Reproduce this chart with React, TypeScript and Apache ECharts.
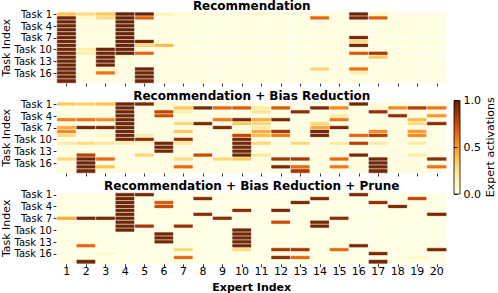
import React, { useEffect, useRef } from 'react';
import * as echarts from 'echarts';

const experts = ['1', '2', '3', '4', '5', '6', '7', '8', '9', '10', '11', '12', '13', '14', '15', '16', '17', '18', '19', '20'];
const tasks = ['Task 1', 'Task 2', 'Task 3', 'Task 4', 'Task 5', 'Task 6', 'Task 7', 'Task 8', 'Task 9', 'Task 10', 'Task 11', 'Task 12', 'Task 13', 'Task 14', 'Task 15', 'Task 16', 'Task 17', 'Task 18'];
const panelTitles = ['Recommendation', 'Recommendation + Bias Reduction', 'Recommendation + Bias Reduction + Prune'];
const colorbarRange = [0, 1];
const colorbarStep = 0.5;
const ylOrBr = ['#ffffe5', '#fff7bc', '#fee391', '#fec44f', '#fe9929', '#ec7014', '#cc4c02', '#993404', '#662506'];

// rows = Task 1..18, columns = Expert 1..20
const recommendation: number[][] = [
  [.38, .28, .35, 1, .98, .14, .06, .03, .03, .04, .10, .03, .03, .03, .03, .98, .10, .03, .03, .03],
  [.98, .10, .28, 1, .68, .03, .03, .03, .03, .03, .03, .03, .03, .66, .03, .96, .68, .03, .03, .03],
  [.98, .03, .03, 1, .03, .03, .03, .03, .03, .03, .03, .03, .03, .03, .03, .03, .03, .03, .03, .03],
  [.98, .03, .03, 1, .03, .03, .03, .03, .03, .03, .03, .03, .03, .03, .03, .03, .03, .03, .03, .03],
  [.98, .03, .03, 1, .03, .03, .03, .03, .03, .03, .03, .03, .03, .03, .03, .03, .03, .03, .03, .03],
  [.98, .03, .03, 1, .03, .03, .03, .03, .03, .03, .03, .03, .03, .03, .03, .03, .03, .03, .03, .03],
  [.98, .03, .03, 1, .03, .03, .03, .03, .03, .03, .03, .03, .03, .03, .03, .97, .03, .03, .03, .03],
  [.98, .03, .03, 1, .97, .03, .03, .03, .03, .03, .03, .03, .03, .03, .03, .28, .03, .03, .03, .03],
  [.98, .03, .03, 1, .30, .40, .03, .03, .03, .03, .03, .03, .03, .03, .03, .97, .03, .03, .03, .03],
  [.98, .18, .98, 1, .03, .03, .03, .03, .03, .03, .03, .03, .03, .03, .03, .03, .03, .03, .03, .03],
  [.98, .18, .98, 1, .65, .03, .03, .03, .03, .03, .03, .03, .03, .03, .03, .70, .85, .03, .03, .03],
  [.98, .03, .98, .10, .03, .03, .03, .03, .03, .03, .03, .03, .03, .03, .03, .03, .35, .03, .03, .03],
  [.98, .03, .98, .03, .03, .03, .03, .03, .03, .03, .03, .03, .03, .03, .03, .03, .03, .03, .03, .03],
  [.98, .03, .98, .03, .03, .03, .03, .03, .03, .03, .03, .03, .03, .03, .03, .03, .03, .03, .03, .03],
  [.98, .03, .12, .03, .98, .03, .03, .03, .03, .03, .03, .03, .03, .30, .03, .62, .03, .03, .03, .03],
  [.98, .03, .62, .03, .98, .03, .03, .03, .03, .03, .03, .03, .03, .03, .03, .18, .03, .03, .03, .03],
  [.98, .03, .03, .03, .98, .03, .03, .03, .03, .03, .03, .03, .03, .03, .03, .03, .03, .03, .03, .03],
  [.98, .03, .03, .03, .98, .03, .03, .03, .03, .03, .03, .03, .03, .03, .03, .03, .03, .03, .03, .03],
];

const biasReduction: number[][] = [
  [.35, .32, .38, .98, .95, .10, .03, .03, .03, .03, .03, .03, .03, .03, .03, .97, .03, .03, .03, .03],
  [.03, .03, .03, .98, .03, .03, .35, .95, .65, .70, .20, .70, .03, .95, .55, .03, .10, .55, .82, .60],
  [.03, .03, .03, .98, .03, .78, .18, .03, .03, .03, .25, .03, .92, .03, .03, .03, .90, .03, .03, .03],
  [.03, .03, .03, .98, .03, .75, .03, .03, .03, .03, .03, .03, .03, .03, .20, .03, .03, .90, .03, .50],
  [.58, .62, .55, .98, .03, .03, .03, .03, .60, .95, .45, .95, .03, .03, .60, .03, .03, .03, .40, .03],
  [.03, .03, .03, .98, .03, .03, .30, .95, .03, .35, .30, .03, .03, .30, .03, .03, .03, .03, .28, .92],
  [.45, .97, .95, .98, .03, .03, .03, .03, .95, .03, .20, .03, .03, .45, .95, .03, .03, .03, .03, .03],
  [.55, .03, .03, .98, .03, .03, .35, .03, .03, .12, .45, .85, .03, .97, .03, .03, .55, .03, .50, .03],
  [.28, .03, .12, .98, .18, .03, .03, .03, .03, .78, .40, .60, .03, .97, .03, .65, .82, .03, .55, .03],
  [.03, .03, .03, .98, .90, .03, .88, .03, .03, .97, .03, .03, .03, .03, .03, .03, .03, .03, .03, .03],
  [.20, .28, .22, .18, .12, .97, .22, .03, .03, .97, .30, .03, .30, .03, .20, .80, .20, .03, .20, .03],
  [.03, .03, .03, .03, .03, .97, .03, .03, .03, .97, .03, .03, .03, .03, .03, .03, .03, .03, .03, .03],
  [.03, .03, .03, .03, .03, .97, .03, .03, .03, .97, .03, .03, .03, .03, .03, .03, .03, .03, .03, .03],
  [.03, .80, .03, .03, .30, .03, .03, .75, .03, .97, .22, .03, .03, .03, .03, .95, .03, .03, .20, .03],
  [.30, .98, .65, .03, .03, .03, .28, .03, .30, .35, .03, .85, .85, .03, .65, .03, .97, .03, .03, .92],
  [.03, .98, .03, .03, .03, .03, .03, .03, .03, .03, .03, .03, .03, .03, .03, .03, .97, .03, .03, .03],
  [.03, .98, .38, .03, .03, .03, .65, .03, .03, .03, .03, .95, .65, .03, .60, .03, .97, .03, .03, .62],
  [.03, .97, .03, .03, .03, .03, .03, .03, .03, .03, .03, .03, .85, .03, .03, .03, .97, .03, .03, .03],
];

const prune: number[][] = [
  [.02, .02, .02, .98, .97, .02, .02, .02, .02, .02, .02, .02, .02, .02, .02, .95, .02, .02, .02, .02],
  [.02, .02, .02, .98, .02, .02, .02, .92, .02, .02, .02, .02, .02, .95, .02, .02, .02, .02, .78, .02],
  [.02, .02, .02, .98, .02, .70, .02, .02, .02, .02, .02, .02, .95, .02, .02, .02, .90, .02, .02, .02],
  [.02, .02, .02, .98, .02, .75, .02, .02, .02, .02, .02, .02, .02, .02, .02, .02, .02, .95, .02, .02],
  [.02, .02, .02, .98, .02, .02, .02, .02, .02, .92, .02, .95, .02, .02, .02, .02, .02, .02, .02, .02],
  [.02, .02, .02, .98, .02, .02, .02, .92, .02, .02, .02, .02, .02, .02, .02, .02, .02, .02, .02, .95],
  [.45, .97, .97, .98, .02, .02, .02, .02, .92, .02, .02, .02, .02, .02, .92, .02, .02, .02, .02, .02],
  [.02, .02, .02, .98, .02, .02, .02, .02, .02, .02, .02, .75, .02, .97, .02, .02, .02, .02, .02, .02],
  [.02, .02, .02, .98, .85, .02, .88, .02, .02, .02, .02, .02, .02, .97, .02, .02, .02, .02, .02, .02],
  [.02, .02, .02, .98, .02, .02, .02, .02, .02, .97, .02, .02, .02, .02, .02, .02, .02, .02, .02, .02],
  [.02, .02, .02, .02, .02, .97, .02, .02, .02, .97, .02, .02, .02, .02, .02, .02, .02, .02, .02, .02],
  [.02, .02, .02, .02, .02, .97, .02, .02, .02, .97, .02, .02, .02, .02, .02, .02, .02, .02, .02, .02],
  [.02, .02, .02, .02, .02, .97, .02, .02, .02, .97, .02, .02, .02, .02, .02, .02, .02, .02, .02, .02],
  [.02, .65, .02, .02, .02, .02, .02, .02, .02, .97, .02, .02, .02, .02, .02, .95, .02, .02, .02, .02],
  [.02, .02, .02, .02, .02, .02, .30, .02, .02, .28, .02, .85, .85, .02, .65, .02, .02, .02, .02, .95],
  [.02, .02, .08, .02, .02, .02, .02, .02, .02, .02, .02, .02, .02, .02, .02, .02, .95, .02, .02, .02],
  [.02, .02, .02, .02, .02, .02, .65, .02, .02, .02, .02, .92, .65, .02, .02, .02, .02, .02, .10, .02],
  [.02, .97, .02, .02, .02, .02, .02, .02, .02, .02, .02, .02, .02, .02, .02, .02, .95, .02, .02, .02],
];

const panels = [recommendation, biasReduction, prune];

const FONT = 'DejaVu Sans';
const GRID_LEFT = 57;
const GRID_WIDTH = 389.5;
const GRID_HEIGHT = 70.7;
const GRID_TOPS = [12.3, 102.3, 193];
const CB = { left: 454, top: 100.5, width: 6, height: 93.5 };

function toCells(m: number[][]) {
  const out: [number, number, number][] = [];
  m.forEach((row, r) => row.forEach((v, c) => out.push([c, r, v])));
  return out;
}

export default function App() {
  const ref = useRef<HTMLDivElement>(null);
  useEffect(() => {
    document.body.style.margin = '0';
    const chart = echarts.init(ref.current!, null, { renderer: 'svg' });
    const tickLine = { color: '#000', width: 0.8 };
    const xAxes: any[] = GRID_TOPS.map((_, i) => ({
      gridIndex: i,
      type: 'category',
      data: experts,
      axisLine: { show: false },
      axisTick: { show: true, alignWithLabel: true, length: 3.5, lineStyle: tickLine },
      axisLabel: { show: i === 2, fontSize: 11, color: '#000', fontFamily: FONT, margin: 2.5 },
      splitLine: { show: false },
      splitArea: { show: false },
    }));
    xAxes.push({ gridIndex: 3, type: 'value', show: false, min: 0, max: 1 });
    const yAxes: any[] = GRID_TOPS.map((_, i) => ({
      gridIndex: i,
      type: 'category',
      data: tasks,
      inverse: true,
      axisLine: { show: false },
      axisTick: { show: true, alignWithLabel: true, interval: 2, length: 3.5, lineStyle: tickLine },
      axisLabel: { interval: 2, fontSize: 10, color: '#000', fontFamily: FONT, margin: 5 },
      splitLine: { show: false },
      splitArea: { show: false },
    }));
    yAxes.push({
      gridIndex: 3,
      type: 'value',
      min: colorbarRange[0],
      max: colorbarRange[1],
      interval: colorbarStep,
      position: 'right',
      axisLine: { show: false },
      axisTick: { show: true, length: 3.5, lineStyle: tickLine },
      axisLabel: { fontSize: 11, color: '#000', fontFamily: FONT, margin: 3.5, formatter: (v: number) => v.toFixed(1) },
      splitLine: { show: false },
    });

    // top of bar = 1.0 (dark), bottom = 0.0 (light); offsets must ascend
    const reversed = ylOrBr.slice().reverse();
    const gradStops = reversed.map((c, i) => ({ offset: i / (reversed.length - 1), color: c }));

    const graphic: any[] = [];
    GRID_TOPS.forEach((top, i) => {
      graphic.push({
        type: 'text', x: GRID_LEFT + GRID_WIDTH / 2, y: top - 6.8, silent: true,
        style: { text: panelTitles[i], fontFamily: FONT, fontWeight: 'bold', fontSize: 12, fill: '#000', align: 'center', verticalAlign: 'middle' },
      });
      graphic.push({
        type: 'text', x: 6, y: top + GRID_HEIGHT / 2, rotation: Math.PI / 2, silent: true,
        style: { text: 'Task Index', fontFamily: FONT, fontSize: 11, fill: '#000', align: 'center', verticalAlign: 'middle' },
      });
    });
    graphic.push({
      type: 'text', x: GRID_LEFT + GRID_WIDTH / 2, y: 287, silent: true,
      style: { text: 'Expert Index', fontFamily: FONT, fontWeight: 'bold', fontSize: 11, fill: '#000', align: 'center', verticalAlign: 'middle' },
    });
    graphic.push({
      type: 'rect', silent: true,
      shape: { x: CB.left, y: CB.top, width: CB.width, height: CB.height },
      style: {
        fill: { type: 'linear', x: 0, y: 0, x2: 0, y2: 1, colorStops: gradStops, global: false },
        stroke: '#000',
        lineWidth: 0.8,
      },
    });
    graphic.push({
      type: 'text', x: 490, y: CB.top + CB.height / 2, rotation: Math.PI / 2, silent: true,
      style: { text: 'Expert activations', fontFamily: FONT, fontSize: 11, fill: '#000', align: 'center', verticalAlign: 'middle' },
    });

    const series: any[] = panels.map((m, i) => ({
      type: 'heatmap',
      xAxisIndex: i,
      yAxisIndex: i,
      data: toCells(m),
      itemStyle: { borderColor: '#ffffff', borderWidth: 0.6 },
      emphasis: { disabled: true },
    }));
    series.push({ type: 'scatter', xAxisIndex: 3, yAxisIndex: 3, data: [], silent: true });

    chart.setOption({
      animation: false,
      textStyle: { fontFamily: FONT },
      grid: [
        ...GRID_TOPS.map((top) => ({ left: GRID_LEFT, top, width: GRID_WIDTH, height: GRID_HEIGHT })),
        { left: CB.left, top: CB.top, width: CB.width, height: CB.height },
      ],
      xAxis: xAxes,
      yAxis: yAxes,
      visualMap: {
        type: 'continuous',
        min: 0,
        max: 1,
        show: false,
        seriesIndex: [0, 1, 2],
        inRange: { color: ylOrBr },
      },
      graphic,
      series,
    });
    return () => chart.dispose();
  }, []);
  return <div ref={ref} style={{ position: 'fixed', left: 0, top: 0, width: 498, height: 293, background: '#fff' }} />;
}
